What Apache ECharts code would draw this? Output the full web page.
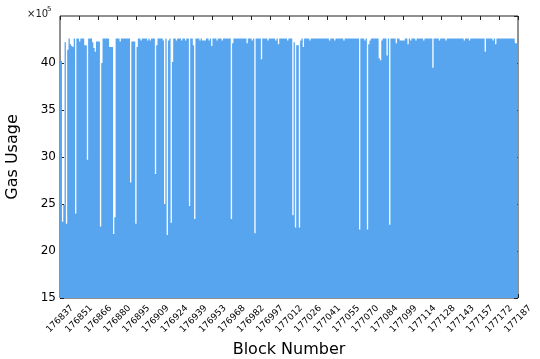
<!DOCTYPE html>
<html>
<head>
<meta charset="utf-8">
<script src="https://cdn.jsdelivr.net/npm/echarts@6/dist/echarts.min.js"></script>
<style>
  html, body { margin: 0; background: #fff; }
  #chart { width: 540px; height: 359px; }
</style>
</head>
<body>
<div id="chart"></div>
<script>
// gas used per block, in units of 1e5
const gasUsage = [
  40.2, 40.2, 23.1, 24.9, 42.2, 22.9, 41.4, 42.6, 42.0, 41.8, 41.7, 42.6, 24.0, 42.6, 42.6, 42.3, 42.6, 42.6, 42.6, 41.9, 41.9, 29.7, 42.6, 42.6, 42.6,
  42.2, 41.6, 41.2, 42.3, 42.3, 42.3, 22.6, 40.0, 42.6, 42.6, 42.6, 42.6, 42.6, 41.7, 41.7, 41.7, 21.8, 23.6, 42.6, 42.6, 42.6, 42.3, 42.6, 42.6, 42.6,
  42.6, 42.6, 42.6, 42.6, 27.3, 42.3, 42.3, 42.3, 22.9, 41.7, 42.6, 42.6, 42.4, 42.6, 42.6, 42.6, 42.6, 42.4, 42.6, 42.4, 42.6, 42.6, 42.6, 28.2, 41.9,
  42.6, 42.6, 42.6, 42.6, 42.4, 25.0, 42.6, 21.7, 42.4, 42.6, 23.0, 40.1, 42.6, 42.6, 42.4, 42.6, 42.6, 42.6, 42.4, 42.6, 42.6, 42.4, 42.6, 42.6, 24.8,
  42.6, 42.6, 41.9, 23.4, 42.6, 42.6, 42.6, 42.4, 42.6, 42.4, 42.4, 42.4, 42.6, 42.6, 42.4, 42.6, 41.8, 42.6, 42.6, 42.6, 42.4, 42.6, 42.6, 42.6, 42.4,
  42.6, 42.6, 42.6, 42.6, 42.6, 42.6, 23.4, 42.1, 42.6, 42.6, 42.6, 42.6, 42.6, 42.6, 42.6, 42.6, 42.6, 42.6, 42.1, 42.6, 42.6, 42.6, 42.4, 42.6, 21.9,
  42.6, 42.6, 42.6, 42.6, 40.4, 42.6, 42.6, 42.6, 42.6, 42.4, 42.6, 42.6, 42.6, 42.6, 42.6, 42.4, 42.6, 42.0, 42.6, 42.6, 42.6, 42.6, 42.6, 42.6, 42.4,
  42.6, 42.6, 42.6, 23.8, 42.2, 22.5, 41.9, 41.9, 22.5, 42.4, 42.6, 41.7, 42.6, 42.6, 42.6, 42.6, 42.4, 42.6, 42.6, 42.6, 42.6, 42.6, 42.6, 42.6, 42.6,
  42.6, 42.6, 42.6, 42.6, 42.6, 42.6, 42.4, 42.6, 42.6, 42.6, 42.4, 42.6, 42.6, 42.6, 42.6, 42.6, 42.6, 42.4, 42.6, 42.6, 42.6, 42.6, 42.6, 42.6, 42.6,
  42.6, 42.6, 42.6, 42.6, 22.3, 42.6, 42.6, 42.6, 42.4, 42.6, 22.3, 42.0, 42.4, 42.6, 42.6, 42.6, 42.6, 42.6, 42.6, 40.5, 40.3, 42.4, 42.6, 42.6, 42.6,
  40.8, 42.6, 22.8, 42.6, 42.6, 42.6, 42.6, 42.1, 42.6, 42.6, 42.4, 42.4, 42.4, 42.4, 42.6, 42.6, 42.0, 42.6, 42.4, 42.6, 42.6, 42.6, 42.4, 42.6, 42.6,
  42.6, 42.6, 42.6, 42.4, 42.6, 42.6, 42.6, 42.6, 42.6, 42.6, 39.5, 42.6, 42.6, 42.6, 42.6, 42.4, 42.6, 42.6, 42.6, 42.6, 42.4, 42.6, 42.6, 42.6, 42.6,
  42.6, 42.6, 42.6, 42.6, 42.6, 42.6, 42.6, 42.6, 42.6, 42.4, 42.6, 42.6, 42.6, 42.4, 42.6, 42.6, 42.6, 42.6, 42.6, 42.6, 42.6, 42.6, 42.6, 42.6, 42.6,
  41.2, 42.6, 42.6, 42.6, 42.6, 42.6, 42.4, 42.6, 42.0, 42.6, 42.6, 42.6, 42.6, 42.6, 42.6, 42.6, 42.6, 42.6, 42.6, 42.6, 42.6, 42.6, 42.6, 42.1, 42.1
];
const firstBlock = 176837;
const lastBlock = 177187;
const blocks = gasUsage.map((_, i) => firstBlock + i);
const tickLabels = [
  "176837", "176851", "176866", "176880", "176895", "176909", "176924", "176939", "176953",
  "176968", "176982", "176997", "177012", "177026", "177041", "177055", "177070", "177084",
  "177099", "177114", "177128", "177143", "177157", "177172", "177187"
];
const yMin = 15, yMax = 45, yStep = 5;

const step = (lastBlock - firstBlock) / (tickLabels.length - 1);
const font = "DejaVu Sans";
const barColor = "#58a5ef";
const tickStyle = { inside: true, length: 4, lineStyle: { color: "#222" } };

const xBase = {
  type: "value", min: firstBlock, max: lastBlock, interval: step,
  splitLine: { show: false }, axisLine: { show: false }, axisTick: tickStyle
};
const yBase = {
  type: "value", min: yMin, max: yMax, interval: yStep,
  splitLine: { show: false }, axisLine: { show: false }, axisTick: tickStyle
};

const option = {
  animation: false,
  grid: {
    left: 60, right: 22, top: 16, bottom: 61,
    show: true, borderColor: "#222", borderWidth: 1,
    outerBoundsMode: "none"
  },
  xAxis: [
    Object.assign({}, xBase, {
      position: "bottom",
      name: "Block Number", nameLocation: "middle", nameGap: 37,
      nameTextStyle: { fontSize: 16, color: "#000", fontFamily: font },
      axisLabel: {
        rotate: 45, align: "center", verticalAlign: "middle", margin: 21,
        fontSize: 9, color: "#000", fontFamily: font,
        formatter: v => tickLabels[Math.round((v - firstBlock) / step)]
      }
    }),
    Object.assign({}, xBase, { position: "top", axisLabel: { show: false } })
  ],
  yAxis: [
    Object.assign({}, yBase, {
      position: "left",
      name: "Gas Usage", nameLocation: "middle", nameGap: 39,
      nameTextStyle: { fontSize: 16, color: "#000", fontFamily: font },
      axisLabel: { fontSize: 12, margin: 4, color: "#000", fontFamily: font, showMaxLabel: false }
    }),
    Object.assign({}, yBase, { position: "right", axisLabel: { show: false } })
  ],
  graphic: [
    { type: "text", left: 27, top: 9, style: { text: "×10", fontSize: 10, fill: "#222", fontFamily: font } },
    { type: "text", left: 47, top: 6, style: { text: "5", fontSize: 7, fill: "#222", fontFamily: font } }
  ],
  series: [{
    type: "bar",
    // large mode fills all bars as one path, so neighbours join without seams
    large: true,
    largeThreshold: 50,
    barWidth: 1.31,
    data: blocks.map((b, i) => [b, gasUsage[i]]),
    itemStyle: { color: barColor },
    clip: true
  }]
};

const myChart = echarts.init(document.getElementById("chart"));
myChart.setOption(option);
</script>
</body>
</html>
